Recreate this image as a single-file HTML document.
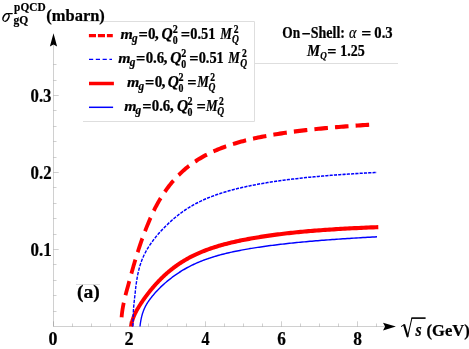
<!DOCTYPE html>
<html><head><meta charset="utf-8"><style>
html,body{margin:0;padding:0;background:#fff;}
body{width:469px;height:349px;overflow:hidden;position:relative;font-family:"Liberation Serif",serif;}
svg{position:absolute;left:0;top:0;will-change:transform;}
text{font-family:"Liberation Serif",serif;font-weight:bold;fill:#000;stroke:#000;stroke-width:0.22px;}
</style></head><body>
<svg width="469" height="349" viewBox="0 0 469 349">
<rect width="469" height="349" fill="#fff"/>
<g stroke="#dedede" stroke-width="1" fill="none">
<path d="M83,21.5 H254.5 V121.5 H83"/>
<path d="M254.5,63.5 H398"/>
<path d="M76,284.5 H100"/>
</g>
<g stroke="#666" stroke-width="0.31" fill="none">
<line x1="53.5" y1="40" x2="53.5" y2="326.5"/>
<line x1="53.5" y1="326.5" x2="385" y2="326.5"/>
<line x1="53.5" y1="311.50" x2="56.5" y2="311.50"/><line x1="53.5" y1="295.50" x2="56.5" y2="295.50"/><line x1="53.5" y1="280.50" x2="56.5" y2="280.50"/><line x1="53.5" y1="264.50" x2="56.5" y2="264.50"/><line x1="53.5" y1="249.50" x2="58.7" y2="249.50"/><line x1="53.5" y1="234.50" x2="56.5" y2="234.50"/><line x1="53.5" y1="218.50" x2="56.5" y2="218.50"/><line x1="53.5" y1="203.50" x2="56.5" y2="203.50"/><line x1="53.5" y1="187.50" x2="56.5" y2="187.50"/><line x1="53.5" y1="172.50" x2="58.7" y2="172.50"/><line x1="53.5" y1="157.50" x2="56.5" y2="157.50"/><line x1="53.5" y1="141.50" x2="56.5" y2="141.50"/><line x1="53.5" y1="126.50" x2="56.5" y2="126.50"/><line x1="53.5" y1="110.50" x2="56.5" y2="110.50"/><line x1="53.5" y1="95.50" x2="58.7" y2="95.50"/><line x1="53.5" y1="80.50" x2="56.5" y2="80.50"/><line x1="53.5" y1="64.50" x2="56.5" y2="64.50"/><line x1="53.50" y1="326.5" x2="53.50" y2="321.3"/><line x1="72.50" y1="326.5" x2="72.50" y2="323.5"/><line x1="91.50" y1="326.5" x2="91.50" y2="323.5"/><line x1="110.50" y1="326.5" x2="110.50" y2="323.5"/><line x1="129.50" y1="326.5" x2="129.50" y2="321.3"/><line x1="148.50" y1="326.5" x2="148.50" y2="323.5"/><line x1="167.50" y1="326.5" x2="167.50" y2="323.5"/><line x1="186.50" y1="326.5" x2="186.50" y2="323.5"/><line x1="205.50" y1="326.5" x2="205.50" y2="321.3"/><line x1="224.50" y1="326.5" x2="224.50" y2="323.5"/><line x1="243.50" y1="326.5" x2="243.50" y2="323.5"/><line x1="262.50" y1="326.5" x2="262.50" y2="323.5"/><line x1="281.50" y1="326.5" x2="281.50" y2="321.3"/><line x1="300.50" y1="326.5" x2="300.50" y2="323.5"/><line x1="319.50" y1="326.5" x2="319.50" y2="323.5"/><line x1="338.50" y1="326.5" x2="338.50" y2="323.5"/><line x1="357.50" y1="326.5" x2="357.50" y2="321.3"/><line x1="376.50" y1="326.5" x2="376.50" y2="323.5"/>
</g>
<path d="M53.5,33.3 L57.1,46.6 L53.5,44.6 L49.9,46.6 Z" fill="#000"/>
<path d="M395.9,326.6 L383.0,330.4 L385.1,326.6 L383.0,322.8 Z" fill="#000"/>
<g fill="none">
<g transform="scale(1,1.088)">
<path d="M121.598,291.581L121.598,291.579L121.599,291.572L121.600,291.554L121.603,291.524L121.607,291.480L121.612,291.419L121.619,291.340L121.628,291.243L121.639,291.125L121.651,290.987L121.667,290.828L121.684,290.648L121.704,290.447L121.726,290.225L121.752,289.983L121.780,289.722L121.811,289.442L121.845,289.143L121.883,288.827L121.923,288.495L121.967,288.147L122.015,287.783L122.066,287.405L122.121,287.014L122.179,286.609L122.241,286.191L122.308,285.761L122.378,285.320L122.453,284.867L122.532,284.402L122.615,283.927L122.702,283.441L122.794,282.943L122.891,282.435L122.992,281.916L123.098,281.378L123.209,280.829L123.324,280.269L123.445,279.697L123.571,279.113L123.701,278.518L123.837,277.910L123.979,277.290L124.125,276.657L124.278,276.011L124.436,275.351L124.602,274.678L124.776,273.990L124.959,273.288L125.150,272.571L125.349,271.839L125.556,271.091L125.772,270.327L125.995,269.548L126.226,268.752L126.465,267.939L126.711,267.109L126.965,266.263L127.225,265.399L127.491,264.517L127.764,263.618L128.042,262.701L128.324,261.766L128.611,260.814L128.902,259.843L129.195,258.855L129.490,257.848L129.787,256.824L130.090,255.782L130.401,254.723L130.718,253.646L131.043,252.552L131.375,251.441L131.714,250.314L132.061,249.170L132.416,248.011L132.778,246.835L133.147,245.645L133.524,244.440L133.909,243.220L134.302,241.987L134.702,240.740L135.111,239.481L135.527,238.209L135.951,236.926L136.384,235.631L136.824,234.326L137.273,233.012L137.730,231.688L138.195,230.356L138.668,229.016L139.150,227.668L139.641,226.315L140.140,224.955L140.647,223.591L141.163,222.222L141.688,220.849L142.221,219.474L142.764,218.096L143.315,216.716L143.875,215.336L144.444,213.955L145.022,212.575L145.609,211.196L146.201,209.818L146.799,208.443L147.401,207.071L148.010,205.703L148.624,204.339L149.246,202.980L149.875,201.626L150.512,200.279L151.157,198.938L151.812,197.604L152.477,196.277L153.152,194.959L153.838,193.649L154.535,192.348L155.244,191.057L155.965,189.775L156.699,188.504L157.445,187.243L158.205,185.993L158.979,184.755L159.767,183.528L160.566,182.313L161.375,181.110L162.194,179.920L163.024,178.742L163.864,177.578L164.715,176.426L165.576,175.288L166.447,174.163L167.329,173.052L168.222,171.954L169.125,170.871L170.039,169.801L170.964,168.745L171.900,167.704L172.846,166.677L173.803,165.663L174.771,164.664L175.750,163.680L176.740,162.709L177.742,161.753L178.754,160.811L179.777,159.884L180.812,158.970L181.858,158.070L182.915,157.185L183.983,156.313L185.063,155.456L186.155,154.612L187.257,153.781L188.372,152.965L189.498,152.161L190.635,151.372L191.784,150.595L192.945,149.831L194.118,149.081L195.302,148.343L196.498,147.618L197.706,146.905L198.926,146.205L200.158,145.517L201.402,144.841L202.658,144.177L203.926,143.525L205.206,142.884L206.499,142.255L207.803,141.637L209.120,141.030L210.449,140.434L211.791,139.849L213.145,139.274L214.511,138.710L215.890,138.155L217.281,137.611L218.685,137.077L220.102,136.553L221.531,136.038L222.973,135.532L224.427,135.036L225.895,134.549L227.375,134.071L228.868,133.601L230.374,133.140L231.893,132.687L233.424,132.243L234.969,131.806L236.527,131.378L238.098,130.957L239.683,130.544L241.280,130.139L242.891,129.740L244.514,129.349L246.152,128.965L247.802,128.588L249.466,128.218L251.143,127.854L252.834,127.497L254.539,127.146L256.257,126.801L257.988,126.462L259.733,126.129L261.492,125.802L263.264,125.481L265.051,125.166L266.851,124.855L268.665,124.551L270.492,124.251L272.334,123.957L274.190,123.667L276.059,123.383L277.943,123.103L279.841,122.828L281.753,122.558L283.679,122.292L285.619,122.030L287.573,121.773L289.542,121.520L291.525,121.272L293.522,121.027L295.534,120.786L297.560,120.549L299.601,120.316L301.656,120.087L303.725,119.861L305.809,119.639L307.908,119.420L310.022,119.205L312.150,118.993L314.293,118.784L316.450,118.579L318.623,118.376L320.810,118.177L323.012,117.981L325.229,117.787L327.461,117.597L329.708,117.409L331.970,117.224L334.248,117.042L336.540,116.862L338.847,116.685L341.170,116.511L343.507,116.339L345.860,116.169L348.229,116.002L350.612,115.837L353.011,115.674L355.426,115.514L357.856,115.356L360.301,115.200L362.762,115.046L365.238,114.894L367.730,114.744L370.238,114.597L372.761,114.451L375.300,114.307" stroke="#ff0000" stroke-width="3.8" stroke-dasharray="13.55,7.12"/>
<path d="M131.000,300.092L131.000,300.091L131.001,300.087L131.002,300.077L131.005,300.061L131.009,300.037L131.014,300.005L131.021,299.964L131.029,299.913L131.040,299.852L131.052,299.781L131.067,299.698L131.084,299.605L131.103,299.501L131.125,299.386L131.150,299.259L131.178,299.121L131.208,298.973L131.241,298.813L131.278,298.643L131.317,298.462L131.360,298.271L131.406,298.070L131.456,297.859L131.510,297.639L131.567,297.409L131.627,297.170L131.692,296.923L131.761,296.668L131.833,296.404L131.910,296.133L131.991,295.855L132.077,295.570L132.166,295.278L132.260,294.979L132.359,294.675L132.462,294.364L132.570,294.049L132.683,293.727L132.801,293.401L132.923,293.070L133.051,292.734L133.183,292.394L133.321,292.050L133.464,291.701L133.612,291.349L133.766,290.992L133.925,290.632L134.089,290.268L134.260,289.901L134.435,289.530L134.617,289.156L134.804,288.779L134.997,288.397L135.196,288.013L135.401,287.625L135.612,287.234L135.830,286.839L136.053,286.440L136.283,286.038L136.519,285.633L136.761,285.223L137.010,284.810L137.265,284.393L137.527,283.972L137.795,283.547L138.071,283.118L138.353,282.684L138.641,282.246L138.937,281.801L139.239,281.347L139.549,280.888L139.866,280.425L140.189,279.956L140.520,279.483L140.858,279.005L141.204,278.522L141.557,278.033L141.917,277.540L142.284,277.042L142.659,276.538L143.042,276.029L143.433,275.515L143.831,274.996L144.236,274.471L144.650,273.942L145.072,273.407L145.501,272.867L145.938,272.323L146.384,271.773L146.837,271.219L147.299,270.660L147.768,270.097L148.246,269.528L148.733,268.956L149.227,268.379L149.731,267.799L150.242,267.214L150.762,266.626L151.291,266.034L151.828,265.438L152.374,264.840L152.928,264.238L153.492,263.634L154.064,263.027L154.645,262.418L155.235,261.807L155.834,261.193L156.442,260.578L157.059,259.962L157.685,259.344L158.320,258.725L158.965,258.106L159.619,257.486L160.282,256.865L160.954,256.245L161.636,255.625L162.328,255.005L163.029,254.386L163.739,253.768L164.459,253.151L165.189,252.535L165.929,251.921L166.678,251.309L167.437,250.699L168.206,250.091L168.985,249.486L169.773,248.883L170.572,248.283L171.381,247.687L172.200,247.093L173.029,246.503L173.868,245.917L174.718,245.334L175.578,244.756L176.448,244.181L177.328,243.611L178.219,243.045L179.121,242.484L180.032,241.928L180.955,241.376L181.888,240.830L182.832,240.288L183.786,239.752L184.751,239.221L185.727,238.695L186.714,238.175L187.711,237.661L188.720,237.152L189.739,236.649L190.770,236.151L191.811,235.660L192.864,235.174L193.928,234.694L195.003,234.220L196.089,233.752L197.186,233.290L198.295,232.835L199.415,232.385L200.547,231.941L201.690,231.503L202.844,231.071L204.010,230.645L205.188,230.224L206.377,229.810L207.578,229.402L208.790,228.999L210.015,228.603L211.251,228.211L212.499,227.826L213.758,227.446L215.030,227.072L216.314,226.703L217.609,226.340L218.917,225.982L220.237,225.629L221.569,225.281L222.913,224.938L224.269,224.601L225.637,224.268L227.018,223.940L228.411,223.616L229.817,223.297L231.235,222.983L232.665,222.673L234.108,222.367L235.563,222.065L237.031,221.768L238.512,221.474L240.005,221.185L241.511,220.899L243.029,220.617L244.561,220.339L246.105,220.064L247.662,219.793L249.232,219.525L250.815,219.260L252.411,218.999L254.020,218.741L255.642,218.487L257.277,218.235L258.925,217.987L260.586,217.742L262.261,217.500L263.948,217.261L265.650,217.025L267.364,216.792L269.092,216.563L270.833,216.336L272.588,216.113L274.356,215.892L276.137,215.675L277.933,215.461L279.741,215.250L281.564,215.043L283.400,214.838L285.250,214.637L287.113,214.439L288.991,214.244L290.882,214.053L292.787,213.865L294.706,213.680L296.639,213.498L298.586,213.320L300.547,213.145L302.522,212.974L304.511,212.805L306.514,212.640L308.531,212.478L310.563,212.320L312.609,212.164L314.669,212.012L316.743,211.863L318.832,211.716L320.935,211.573L323.053,211.432L325.185,211.295L327.332,211.160L329.493,211.028L331.669,210.898L333.859,210.771L336.064,210.647L338.283,210.525L340.518,210.405L342.767,210.288L345.031,210.172L347.310,210.059L349.603,209.948L351.912,209.839L354.235,209.732L356.574,209.627L358.927,209.524L361.296,209.422L363.679,209.323L366.078,209.225L368.492,209.128L370.921,209.033L373.366,208.940L375.825,208.848L378.300,208.758" stroke="#ff0000" stroke-width="3.8"/>
<path d="M133.000,300.092L133.000,299.882L133.001,299.571L133.002,299.200L133.005,298.779L133.009,298.316L133.014,297.813L133.020,297.272L133.029,296.695L133.039,296.084L133.052,295.440L133.066,294.764L133.083,294.058L133.102,293.321L133.124,292.557L133.148,291.765L133.175,290.948L133.205,290.105L133.238,289.239L133.274,288.352L133.313,287.443L133.356,286.515L133.408,285.569L133.472,284.606L133.546,283.628L133.631,282.636L133.725,281.622L133.828,280.585L133.940,279.537L134.058,278.482L134.181,277.419L134.309,276.351L134.439,275.278L134.572,274.202L134.704,273.124L134.836,272.046L134.965,270.968L135.091,269.892L135.212,268.818L135.329,267.749L135.450,266.684L135.576,265.625L135.707,264.572L135.843,263.527L135.984,262.490L136.130,261.462L136.282,260.444L136.439,259.435L136.602,258.437L136.770,257.450L136.944,256.475L137.123,255.512L137.308,254.560L137.499,253.621L137.695,252.694L137.898,251.780L138.107,250.879L138.321,249.990L138.542,249.115L138.769,248.251L139.002,247.400L139.241,246.562L139.487,245.736L139.739,244.922L139.998,244.119L140.263,243.328L140.535,242.548L140.813,241.778L141.099,241.019L141.391,240.270L141.690,239.531L141.995,238.801L142.308,238.080L142.628,237.367L142.955,236.662L143.289,235.964L143.630,235.273L143.978,234.589L144.334,233.911L144.697,233.239L145.068,232.572L145.446,231.910L145.832,231.252L146.225,230.598L146.626,229.948L147.034,229.301L147.451,228.657L147.875,228.015L148.307,227.376L148.747,226.738L149.195,226.102L149.651,225.468L150.115,224.834L150.587,224.201L151.068,223.568L151.556,222.936L152.053,222.304L152.559,221.672L153.072,221.040L153.595,220.408L154.125,219.775L154.664,219.142L155.212,218.508L155.769,217.874L156.334,217.239L156.908,216.603L157.491,215.967L158.083,215.330L158.683,214.693L159.293,214.056L159.911,213.417L160.539,212.779L161.176,212.140L161.821,211.501L162.477,210.863L163.141,210.224L163.815,209.585L164.498,208.947L165.190,208.309L165.892,207.672L166.603,207.036L167.324,206.401L168.050,205.766L168.782,205.134L169.521,204.502L170.267,203.873L171.019,203.245L171.779,202.619L172.546,201.996L173.321,201.375L174.105,200.756L174.896,200.140L175.697,199.527L176.506,198.918L177.324,198.311L178.152,197.708L178.990,197.109L179.838,196.513L180.696,195.921L181.564,195.333L182.443,194.750L183.332,194.171L184.233,193.596L185.145,193.026L186.069,192.461L187.004,191.900L187.951,191.344L188.911,190.794L189.882,190.249L190.865,189.709L191.862,189.174L192.870,188.645L193.892,188.121L194.926,187.603L195.973,187.090L197.033,186.583L198.106,186.082L199.193,185.586L200.293,185.096L201.406,184.612L202.533,184.134L203.673,183.662L204.825,183.196L205.988,182.735L207.163,182.280L208.349,181.831L209.547,181.388L210.756,180.951L211.977,180.520L213.210,180.094L214.454,179.674L215.711,179.260L216.979,178.851L218.259,178.448L219.550,178.050L220.854,177.658L222.170,177.271L223.498,176.890L224.837,176.514L226.189,176.143L227.553,175.778L228.930,175.417L230.318,175.062L231.719,174.711L233.132,174.365L234.557,174.024L235.995,173.688L237.445,173.357L238.907,173.030L240.382,172.707L241.870,172.389L243.370,172.075L244.883,171.766L246.409,171.460L247.947,171.159L249.498,170.862L251.061,170.569L252.638,170.279L254.227,169.994L255.829,169.712L257.445,169.434L259.073,169.160L260.714,168.889L262.368,168.622L264.036,168.359L265.716,168.099L267.410,167.842L269.117,167.589L270.837,167.339L272.570,167.093L274.317,166.850L276.077,166.610L277.850,166.374L279.637,166.140L281.437,165.910L283.251,165.684L285.079,165.460L286.920,165.240L288.774,165.023L290.642,164.809L292.524,164.598L294.420,164.390L296.330,164.186L298.253,163.984L300.190,163.786L302.141,163.590L304.106,163.398L306.085,163.208L308.078,163.022L310.085,162.838L312.106,162.658L314.141,162.480L316.190,162.305L318.254,162.133L320.331,161.963L322.423,161.797L324.529,161.633L326.650,161.471L328.785,161.312L330.934,161.156L333.098,161.002L335.276,160.850L337.469,160.701L339.676,160.554L341.898,160.409L344.135,160.266L346.386,160.126L348.651,159.987L350.932,159.851L353.227,159.717L355.537,159.584L357.862,159.453L360.202,159.324L362.557,159.197L364.926,159.072L367.311,158.948L369.711,158.825L372.125,158.705L374.555,158.586L377.000,158.468" stroke="#0000ff" stroke-width="1.4" stroke-dasharray="3.15,1.15"/>
<path d="M140.000,300.092L140.000,300.091L140.001,300.084L140.002,300.070L140.005,300.046L140.008,300.011L140.013,299.963L140.020,299.902L140.028,299.827L140.038,299.737L140.050,299.632L140.064,299.511L140.081,299.374L140.099,299.221L140.121,299.052L140.144,298.868L140.171,298.667L140.200,298.452L140.232,298.221L140.267,297.975L140.305,297.715L140.346,297.441L140.390,297.153L140.438,296.853L140.489,296.540L140.544,296.215L140.603,295.880L140.665,295.534L140.731,295.178L140.800,294.813L140.874,294.439L140.952,294.057L141.034,293.668L141.120,293.273L141.210,292.871L141.305,292.464L141.404,292.052L141.508,291.636L141.616,291.216L141.729,290.793L141.847,290.367L141.969,289.940L142.097,289.510L142.229,289.079L142.366,288.648L142.509,288.216L142.656,287.784L142.809,287.352L142.967,286.921L143.130,286.490L143.299,286.060L143.473,285.632L143.653,285.205L143.839,284.779L144.030,284.355L144.227,283.933L144.430,283.513L144.638,283.094L144.853,282.677L145.073,282.262L145.300,281.844L145.533,281.423L145.772,281.005L146.017,280.587L146.268,280.172L146.526,279.757L146.790,279.344L147.061,278.933L147.339,278.521L147.622,278.111L147.913,277.702L148.210,277.292L148.514,276.883L148.825,276.474L149.143,276.065L149.468,275.656L149.798,275.245L150.132,274.835L150.471,274.423L150.816,274.010L151.165,273.596L151.520,273.181L151.880,272.764L152.246,272.345L152.618,271.924L152.997,271.502L153.381,271.077L153.772,270.650L154.170,270.220L154.575,269.788L154.987,269.354L155.407,268.917L155.834,268.478L156.269,268.036L156.713,267.591L157.165,267.143L157.625,266.693L158.095,266.240L158.574,265.785L159.062,265.327L159.560,264.866L160.069,264.403L160.588,263.938L161.117,263.470L161.658,263.000L162.210,262.527L162.775,262.053L163.350,261.577L163.934,261.099L164.526,260.619L165.127,260.138L165.738,259.656L166.357,259.173L166.985,258.688L167.621,258.203L168.267,257.717L168.922,257.230L169.586,256.744L170.259,256.257L170.942,255.770L171.633,255.284L172.334,254.798L173.044,254.312L173.764,253.828L174.493,253.344L175.231,252.862L175.979,252.381L176.737,251.902L177.504,251.424L178.281,250.949L179.067,250.475L179.864,250.004L180.670,249.535L181.485,249.069L182.311,248.606L183.147,248.145L183.992,247.688L184.848,247.233L185.714,246.782L186.589,246.335L187.475,245.891L188.371,245.451L189.278,245.015L190.194,244.582L191.121,244.154L192.058,243.730L193.006,243.309L193.964,242.894L194.933,242.482L195.912,242.075L196.901,241.673L197.902,241.274L198.912,240.881L199.934,240.492L200.966,240.108L202.010,239.728L203.064,239.353L204.128,238.983L205.204,238.618L206.291,238.257L207.388,237.901L208.497,237.550L209.617,237.203L210.748,236.861L211.890,236.524L213.043,236.191L214.208,235.862L215.383,235.539L216.571,235.219L217.769,234.905L218.979,234.594L220.200,234.288L221.433,233.986L222.677,233.688L223.933,233.395L225.200,233.105L226.480,232.819L227.770,232.538L229.073,232.260L230.387,231.986L231.713,231.715L233.051,231.448L234.401,231.184L235.762,230.924L237.136,230.668L238.522,230.414L239.919,230.164L241.329,229.916L242.751,229.672L244.185,229.431L245.631,229.192L247.090,228.957L248.560,228.724L250.044,228.493L251.539,228.266L253.047,228.040L254.567,227.818L256.099,227.597L257.645,227.379L259.202,227.164L260.772,226.950L262.355,226.739L263.951,226.530L265.559,226.324L267.180,226.119L268.814,225.917L270.460,225.716L272.119,225.518L273.792,225.322L275.477,225.128L277.175,224.936L278.886,224.746L280.610,224.558L282.347,224.372L284.097,224.188L285.861,224.006L287.637,223.826L289.427,223.648L291.230,223.472L293.046,223.298L294.876,223.126L296.719,222.956L298.575,222.788L300.445,222.622L302.328,222.458L304.225,222.295L306.135,222.135L308.059,221.976L309.996,221.820L311.947,221.665L313.912,221.511L315.891,221.360L317.883,221.210L319.889,221.062L321.909,220.915L323.942,220.770L325.990,220.626L328.051,220.484L330.127,220.344L332.216,220.204L334.320,220.066L336.438,219.929L338.569,219.794L340.715,219.660L342.875,219.526L345.049,219.394L347.238,219.263L349.441,219.133L351.658,219.004L353.889,218.876L356.135,218.749L358.395,218.622L360.670,218.497L362.959,218.372L365.263,218.248L367.581,218.125L369.914,218.002L372.261,217.880L374.623,217.759L377.000,217.638" stroke="#0000ff" stroke-width="1.35"/>
</g>
<line x1="88.9" y1="35.6" x2="112.8" y2="35.6" stroke="#ff0000" stroke-width="3.2" stroke-dasharray="7.1,1.9"/>
<line x1="89.0" y1="59.4" x2="112" y2="59.4" stroke="#0000ff" stroke-width="1.4" stroke-dasharray="4.2,2.6"/>
<line x1="89" y1="83.5" x2="113.9" y2="83.5" stroke="#ff0000" stroke-width="3.5"/>
<line x1="89" y1="107.3" x2="113.1" y2="107.3" stroke="#0000ff" stroke-width="1.5"/>
</g>
<g stroke="#000" fill="none"><path d="M401.0,326.6 L404.0,324.8" stroke-width="1"/><path d="M404.0,324.4 L407.7,336.8" stroke-width="2.1"/><path d="M407.5,337.3 L411.9,318.0" stroke-width="1.05"/><path d="M411.4,318.1 H425.6" stroke-width="1.6"/></g>
<text transform="translate(48.53,344.80) scale(0.9614,1.0000)" font-size="18.60">0</text>
<text transform="translate(124.52,344.80) scale(0.9787,1.0000)" font-size="18.60">2</text>
<text transform="translate(201.60,344.80) scale(0.8694,1.0000)" font-size="18.60">4</text>
<text transform="translate(277.24,344.80) scale(0.9286,1.0000)" font-size="18.60">6</text>
<text transform="translate(353.23,344.80) scale(0.9393,1.0000)" font-size="18.60">8</text>
<text transform="translate(30.56,255.90) scale(0.9111,1.0000)" font-size="18.60">0.1</text>
<text transform="translate(30.57,178.90) scale(0.9052,1.0000)" font-size="18.60">0.2</text>
<text transform="translate(30.57,101.90) scale(0.8976,1.0000)" font-size="18.60">0.3</text>
<text transform="translate(76.97,298.30) scale(1.0331,1.0000)" font-size="19.00">(a)</text>
<g transform="translate(6.0,17.4) rotate(28)"><ellipse cx="0" cy="0" rx="3.3" ry="4.6" fill="#000"/><ellipse cx="0" cy="0" rx="1.75" ry="3.7" fill="#fff"/></g><path d="M6.6,12.9 H12.9 L12.5,14.3 H6.0 Z" fill="#000"/>
<text transform="translate(14.06,11.00) scale(0.8747,1.0000)" font-size="13.00">pQCD</text>
<text transform="translate(13.51,24.30) scale(0.8900,1.0000)" font-size="13.00">gQ</text>
<text transform="translate(46.30,20.80) scale(1.0499,1.0000)" font-size="15.70">(mbarn)</text>
<text transform="translate(415.42,335.50) scale(0.8531,1.0000)" font-size="18.50" style="font-style:italic">s</text>
<text transform="translate(426.50,335.60) scale(1.0478,1.0000)" font-size="15.80">(GeV)</text>
<text transform="translate(282.27,37.70) scale(0.8455,1.0000)" font-size="15.80">On</text>
<rect x="302.3" y="33.0" width="7.6" height="1.5" fill="#000"/>
<text transform="translate(310.77,37.70) scale(0.8842,1.0000)" font-size="15.80">Shell:</text>
<text transform="translate(349.11,37.70) scale(0.8971,1.0000)" font-size="15.80" style="font-style:italic;font-weight:normal">α</text>
<text transform="translate(361.36,38.90) scale(1.1237,1.0000)" font-size="15.80">=</text>
<text transform="translate(374.35,37.70) scale(0.9279,1.0000)" font-size="15.80">0.3</text>
<text transform="translate(306.92,55.70) scale(0.9299,1.0000)" font-size="15.80" style="font-style:italic">M</text>
<text transform="translate(320.18,58.60) scale(0.8045,1.0000)" font-size="11.30" style="font-style:italic">Q</text>
<text transform="translate(327.13,56.60) scale(1.0289,1.0000)" font-size="15.80">=</text>
<text transform="translate(340.18,55.70) scale(0.8865,1.0000)" font-size="15.80">1.25</text>
<text transform="translate(120.62,38.80) scale(1.0573,1.0000)" font-size="15.00" style="font-style:italic">m</text>
<text transform="translate(131.93,42.00) scale(0.9428,1.0000)" font-size="12.00" style="font-style:italic">g</text>
<text transform="translate(138.42,40.40) scale(1.0294,1.0000)" font-size="16.00">=</text>
<text transform="translate(147.94,38.80) scale(0.9412,1.0000)" font-size="16.00">0</text>
<text transform="translate(154.70,38.80)" font-size="16.00">,</text>
<text transform="translate(161.56,38.80) scale(0.9659,1.0000)" font-size="16.00" style="font-style:italic">Q</text>
<text transform="translate(172.73,43.70) scale(0.8593,1.0000)" font-size="11.50">0</text>
<text transform="translate(172.70,32.80) scale(0.8748,1.0000)" font-size="11.50">2</text>
<text transform="translate(180.82,40.40) scale(1.0294,1.0000)" font-size="16.00">=</text>
<text transform="translate(190.26,38.80) scale(0.8985,1.0000)" font-size="16.00">0.51</text>
<text transform="translate(220.30,38.80) scale(0.8177,1.0000)" font-size="16.00" style="font-style:italic">M</text>
<text transform="translate(231.97,43.10) scale(0.7955,1.0000)" font-size="12.00" style="font-style:italic">Q</text>
<text transform="translate(233.72,32.80) scale(0.8331,1.0000)" font-size="11.50">2</text>
<text transform="translate(118.32,62.80) scale(1.0573,1.0000)" font-size="15.00" style="font-style:italic">m</text>
<text transform="translate(129.63,66.00) scale(0.9428,1.0000)" font-size="12.00" style="font-style:italic">g</text>
<text transform="translate(136.12,64.40) scale(1.0294,1.0000)" font-size="16.00">=</text>
<text transform="translate(145.64,62.80) scale(0.9283,1.0000)" font-size="16.00">0.6</text>
<text transform="translate(163.60,62.80)" font-size="16.00">,</text>
<text transform="translate(170.26,62.80) scale(0.9659,1.0000)" font-size="16.00" style="font-style:italic">Q</text>
<text transform="translate(181.23,67.70) scale(0.8593,1.0000)" font-size="11.50">0</text>
<text transform="translate(181.20,56.80) scale(0.8748,1.0000)" font-size="11.50">2</text>
<text transform="translate(189.22,64.40) scale(1.0294,1.0000)" font-size="16.00">=</text>
<text transform="translate(198.66,62.80) scale(0.8985,1.0000)" font-size="16.00">0.51</text>
<text transform="translate(228.30,62.80) scale(0.8177,1.0000)" font-size="16.00" style="font-style:italic">M</text>
<text transform="translate(240.37,67.10) scale(0.7955,1.0000)" font-size="12.00" style="font-style:italic">Q</text>
<text transform="translate(242.12,56.80) scale(0.8331,1.0000)" font-size="11.50">2</text>
<text transform="translate(127.12,86.80) scale(1.0573,1.0000)" font-size="15.00" style="font-style:italic">m</text>
<text transform="translate(138.43,90.00) scale(0.9428,1.0000)" font-size="12.00" style="font-style:italic">g</text>
<text transform="translate(145.12,88.40) scale(1.0294,1.0000)" font-size="16.00">=</text>
<text transform="translate(154.64,86.80) scale(0.9412,1.0000)" font-size="16.00">0</text>
<text transform="translate(161.40,86.80)" font-size="16.00">,</text>
<text transform="translate(167.76,86.80) scale(0.9659,1.0000)" font-size="16.00" style="font-style:italic">Q</text>
<text transform="translate(178.43,91.70) scale(0.8593,1.0000)" font-size="11.50">0</text>
<text transform="translate(178.40,80.80) scale(0.8748,1.0000)" font-size="11.50">2</text>
<text transform="translate(187.32,88.40) scale(1.0294,1.0000)" font-size="16.00">=</text>
<text transform="translate(197.30,86.80) scale(0.8177,1.0000)" font-size="16.00" style="font-style:italic">M</text>
<text transform="translate(208.57,91.10) scale(0.7955,1.0000)" font-size="12.00" style="font-style:italic">Q</text>
<text transform="translate(210.32,80.80) scale(0.8331,1.0000)" font-size="11.50">2</text>
<text transform="translate(124.22,110.80) scale(1.0573,1.0000)" font-size="15.00" style="font-style:italic">m</text>
<text transform="translate(135.53,114.00) scale(0.9428,1.0000)" font-size="12.00" style="font-style:italic">g</text>
<text transform="translate(142.22,112.40) scale(1.0294,1.0000)" font-size="16.00">=</text>
<text transform="translate(151.74,110.80) scale(0.9283,1.0000)" font-size="16.00">0.6</text>
<text transform="translate(169.70,110.80)" font-size="16.00">,</text>
<text transform="translate(176.96,110.80) scale(0.9659,1.0000)" font-size="16.00" style="font-style:italic">Q</text>
<text transform="translate(187.43,115.70) scale(0.8593,1.0000)" font-size="11.50">0</text>
<text transform="translate(187.40,104.80) scale(0.8748,1.0000)" font-size="11.50">2</text>
<text transform="translate(196.52,112.40) scale(1.0294,1.0000)" font-size="16.00">=</text>
<text transform="translate(206.10,110.80) scale(0.8177,1.0000)" font-size="16.00" style="font-style:italic">M</text>
<text transform="translate(217.37,115.10) scale(0.7955,1.0000)" font-size="12.00" style="font-style:italic">Q</text>
<text transform="translate(219.12,104.80) scale(0.8331,1.0000)" font-size="11.50">2</text>
</svg>
</body></html>
